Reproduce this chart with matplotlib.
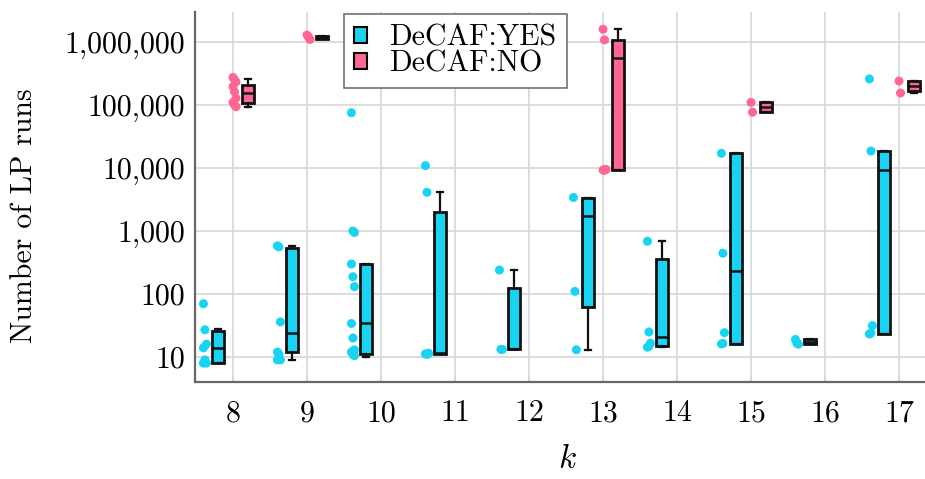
import numpy as np
import matplotlib
matplotlib.use('Agg')
import matplotlib.pyplot as plt
from matplotlib.patches import Patch
from matplotlib.ticker import FixedLocator, FixedFormatter, NullLocator

plt.rcParams['font.family'] = ['cmr10', 'DejaVu Serif']
plt.rcParams['mathtext.fontset'] = 'cm'
plt.rcParams['axes.unicode_minus'] = False
plt.rcParams['axes.formatter.use_mathtext'] = True

categories = ['8', '9', '10', '11', '12', '13', '14', '15', '16', '17']

# DeCAF:YES box statistics
yes_q1 = [7.9, 11.9, 11.2, 11.2, 13.2, 62, 15.1, 16.1, 16.1, 23.2]
yes_med = [13.7, 23.8, 34.3, 11.4, 13.4, 1730, 21, 234, 17.5, 9290]
yes_q3 = [26, 531, 299, 2024, 126, 3300, 359, 17100, 19.1, 18600]
yes_lo = [7.9, 9.0, 10.1, 11.2, 13.2, 12.9, 14.3, 16.1, 16.1, 23.2]
yes_hi = [27.5, 578, 299, 4110, 240, 3300, 687, 17100, 19.1, 18600]
yes_points = [
    [70, 27, 16, 14, 9, 8, 8],
    [580, 560, 36, 12, 11, 9, 9],
    [75500, 1000, 950, 299, 188, 131, 34, 20, 13, 12, 11, 10.5],
    [10900, 4110, 11.5, 11.2, 11, 11.3],
    [240, 13.2, 13.2],
    [3400, 110, 13],
    [687, 25, 16.5, 14.3, 14.8],
    [17100, 443, 24.3, 16.1, 16.4],
    [19, 16.5, 16],
    [259000, 18600, 31.4, 23.2, 24],
]

# DeCAF:NO box statistics (None = no data for that k)
no_q1 = [109000, 1.10e6, None, None, None, 9290, None, 76600, None, 169000]
no_med = [153000, 1.17e6, None, None, None, 551000, None, 91800, None, 200000]
no_q3 = [207000, 1.245e6, None, None, None, 1.077e6, None, 110000, None, 240000]
no_lo = [94000, 1.10e6, None, None, None, 9290, None, 76600, None, 153000]
no_hi = [259000, 1.245e6, None, None, None, 1.59e6, None, 110000, None, 240000]
no_points = [
    [274000, 250000, 233000, 195000, 162000, 128000, 110000, 100000, 94000],
    [1.29e6, 1.2e6, 1.1e6],
    [], [], [],
    [1.59e6, 1.08e6, 9500, 9290, 9200],
    [],
    [110000, 77000],
    [],
    [240000, 155000],
]

ytick_vals = [10, 100, 1000, 10000, 100000, 1000000]
ytick_labels = ['10', '100', '1,000', '10,000', '100,000', '1,000,000']

YES_COLOR = '#19D3F3'
NO_COLOR = '#FF6692'

fig = plt.figure(figsize=(9.25, 4.79), dpi=100)
ax = fig.add_axes([195/925, 97/479, 730/925, 370/479])
ax.set_yscale('log')

box_w = 0.165
offset = 0.2
pt_off = -0.18

def draw_group(q1, med, q3, lo, hi, pts, shift, color):
    stats, pos = [], []
    for i in range(len(categories)):
        if q1[i] is None:
            continue
        stats.append(dict(q1=q1[i], med=med[i], q3=q3[i], whislo=lo[i], whishi=hi[i], fliers=[]))
        pos.append(i + shift)
    ax.bxp(stats, positions=pos, widths=box_w, patch_artist=True, showfliers=False,
           manage_ticks=False, capwidths=box_w * 0.45,
           boxprops=dict(facecolor=color, edgecolor='#111111', linewidth=2.0),
           medianprops=dict(color='#111111', linewidth=1.8),
           whiskerprops=dict(color='#111111', linewidth=1.6),
           capprops=dict(color='#111111', linewidth=1.6), zorder=3)
    for i, p in enumerate(pts):
        if not p:
            continue
        jit = np.array([((j % 3) - 1) * 0.02 for j in range(len(p))])
        ax.scatter(i + shift + pt_off + jit, p, s=42, color=color, edgecolors='none', zorder=2)

draw_group(yes_q1, yes_med, yes_q3, yes_lo, yes_hi, yes_points, -offset, YES_COLOR)
draw_group(no_q1, no_med, no_q3, no_lo, no_hi, no_points, offset, NO_COLOR)

ax.set_xlim(-0.514, 9.351)
ax.set_ylim(10**0.603, 10**6.476)
ax.xaxis.set_major_locator(FixedLocator(range(len(categories))))
ax.xaxis.set_major_formatter(FixedFormatter(categories))
ax.yaxis.set_major_locator(FixedLocator(ytick_vals))
ax.yaxis.set_major_formatter(FixedFormatter(ytick_labels))
ax.yaxis.set_minor_locator(NullLocator())
ax.tick_params(axis='both', length=0, labelsize=21.5)
ax.tick_params(axis='y', pad=7)
ax.tick_params(axis='x', pad=13)
ax.grid(True, color='#d6d6d6', linewidth=1.2, zorder=0)
ax.set_axisbelow(True)
for s in ['top', 'right']:
    ax.spines[s].set_visible(False)
for s in ['left', 'bottom']:
    ax.spines[s].set_color('#666666')
    ax.spines[s].set_linewidth(1.6)

ax.set_xlabel('$k$', fontsize=24)
ax.xaxis.set_label_coords(0.51, -0.17)
ax.set_ylabel('Number of LP runs', fontsize=21.5)
ax.yaxis.set_label_coords(-0.215, 0.45)

handles = [Patch(facecolor=YES_COLOR, edgecolor='black', linewidth=1.5, label='DeCAF:YES'),
           Patch(facecolor=NO_COLOR, edgecolor='black', linewidth=1.5, label='DeCAF:NO')]
leg = ax.legend(handles=handles, loc='upper left', bbox_to_anchor=(0.204, 0.995),
                borderaxespad=0, fontsize=21.5, fancybox=False, framealpha=1,
                edgecolor='#666666', handlelength=0.42, handleheight=0.42,
                handletextpad=0.75, labelspacing=-0.05, borderpad=0.35)
leg.get_frame().set_linewidth(1.1)

fig.savefig('out.png', dpi=100)
